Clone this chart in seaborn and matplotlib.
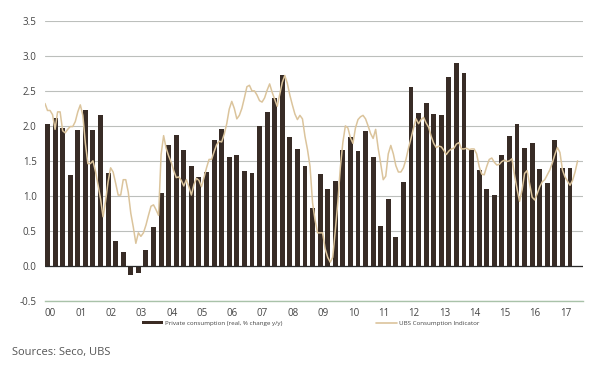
import numpy as np
import pandas as pd
import matplotlib
matplotlib.use('Agg')
import matplotlib.pyplot as plt
import seaborn as sns
from matplotlib.patches import Patch
from matplotlib.lines import Line2D

sns.set_style('white')
plt.rcParams['font.family'] = ['Open Sans', 'DejaVu Sans']

# Private consumption (real, % change y/y), quarterly 2000Q1 - 2017Q2
private_consumption = [
    2.03, 2.11, 1.97, 1.30,
    1.94, 2.23, 1.94, 2.15,
    1.33, 0.36, 0.19, -0.13,
    -0.11, 0.22, 0.55, 1.04,
    1.72, 1.87, 1.66, 1.43,
    1.27, 1.34, 1.80, 1.96,
    1.56, 1.58, 1.36, 1.32,
    2.00, 2.20, 2.40, 2.73,
    1.84, 1.67, 1.43, 0.82,
    1.31, 1.09, 1.21, 1.66,
    1.84, 1.64, 1.93, 1.55,
    0.57, 0.96, 0.41, 1.20,
    2.56, 2.18, 2.33, 2.17,
    2.15, 2.70, 2.90, 2.75,
    1.65, 1.37, 1.10, 1.01,
    1.59, 1.86, 2.03, 1.69,
    1.75, 1.38, 1.18, 1.80,
    1.40, 1.40,
]

# UBS Consumption Indicator, monthly Jan 2000 - Aug 2017
ubs_indicator = [
    2.32, 2.22, 2.22, 2.16, 1.95, 2.20, 2.20, 1.93, 1.90, 1.95, 1.99, 1.99,
    2.06, 2.20, 2.30, 2.15, 1.75, 1.46, 1.46, 1.50, 1.35, 1.16, 0.96, 0.70,
    0.92, 1.20, 1.40, 1.34, 1.18, 1.01, 1.01, 1.23, 1.23, 1.05, 0.75, 0.55,
    0.32, 0.47, 0.42, 0.47, 0.58, 0.72, 0.85, 0.87, 0.80, 0.72, 1.59, 1.86,
    1.68, 1.57, 1.48, 1.36, 1.26, 1.27, 1.22, 1.14, 1.23, 1.13, 1.01, 1.16,
    1.25, 1.22, 1.13, 1.26, 1.40, 1.52, 1.52, 1.63, 1.73, 1.78, 1.77, 1.88,
    2.03, 2.24, 2.35, 2.25, 2.10, 2.15, 2.25, 2.40, 2.56, 2.58, 2.50, 2.50,
    2.44, 2.36, 2.34, 2.40, 2.51, 2.60, 2.48, 2.38, 2.28, 2.45, 2.62, 2.72,
    2.61, 2.44, 2.30, 2.17, 2.09, 2.15, 2.10, 1.85, 1.66, 1.42, 0.90, 0.65,
    0.47, 0.47, 0.47, 0.24, 0.12, 0.05, 0.12, 0.50, 0.90, 1.40, 1.76, 2.00,
    1.97, 1.83, 1.75, 1.97, 2.09, 2.13, 2.15, 2.10, 2.00, 1.89, 1.82, 1.95,
    1.68, 1.46, 1.23, 1.28, 1.60, 1.72, 1.60, 1.43, 1.34, 1.34, 1.40, 1.52,
    1.68, 1.82, 1.97, 2.10, 2.03, 2.09, 2.12, 2.04, 1.98, 1.85, 1.75, 1.69,
    1.71, 1.70, 1.65, 1.59, 1.64, 1.67, 1.68, 1.74, 1.76, 1.67, 1.67, 1.68,
    1.66, 1.67, 1.67, 1.60, 1.42, 1.31, 1.30, 1.42, 1.52, 1.54, 1.48, 1.44,
    1.45, 1.49, 1.51, 1.49, 1.50, 1.53, 1.30, 1.10, 0.92, 1.08, 1.32, 1.36,
    1.17, 0.98, 0.94, 1.03, 1.13, 1.20, 1.23, 1.30, 1.37, 1.47, 1.59, 1.69,
    1.62, 1.37, 1.27, 1.21, 1.15, 1.22, 1.34, 1.50,
]

year_labels = ['%02d' % y for y in range(18)]

bar_color = '#3b2b23'
line_color = '#dbc49c'
grid_color = '#bcbfbc'
text_color = '#444444'

# quarter index for bars, months mapped onto the same quarter scale
bars = pd.DataFrame({'q': np.arange(len(private_consumption)),
                     'value': private_consumption})
line = pd.DataFrame({'q': (np.arange(len(ubs_indicator)) - 1) / 3,
                     'value': ubs_indicator})

fig = plt.figure(figsize=(6, 3.68), dpi=100)
ax = fig.add_axes([0.075, 0.183, 0.897, 0.760])

for v in np.arange(-0.5, 3.51, 0.5):
    ax.axhline(v, color=grid_color, lw=0.8, zorder=0)

sns.barplot(data=bars, x='q', y='value', native_scale=True, width=0.65,
            color=bar_color, edgecolor='none', errorbar=None, ax=ax, zorder=2)
ax.axhline(0, color='#2a2a2a', lw=0.9, zorder=3)
sns.lineplot(data=line, x='q', y='value', color=line_color, lw=1.1, ax=ax, zorder=4)

ax.set_xlim(-0.33, 70.74)
ax.set_ylim(-0.5, 3.5)
ax.set_yticks(np.arange(-0.5, 3.51, 0.5))
ax.set_yticklabels(['%.1f' % v for v in np.arange(-0.5, 3.51, 0.5)])
ax.set_xticks(np.arange(18) * 4 + 0.4)
ax.set_xticklabels(year_labels)
ax.tick_params(axis='both', length=0, labelsize=7, colors=text_color)
ax.tick_params(axis='x', pad=5)
ax.tick_params(axis='y', pad=6)
ax.set_xlabel('')
ax.set_ylabel('')
for s in ['top', 'right', 'left']:
    ax.spines[s].set_visible(False)
ax.spines['bottom'].set_color('#a9c2a9')
ax.spines['bottom'].set_linewidth(1.0)

handles = [Patch(facecolor=bar_color, edgecolor='none'),
           Line2D([0], [0], color=line_color, lw=1.2)]
fig.legend(handles, ['Private consumption (real, % change y/y)', 'UBS Consumption Indicator'],
           loc='center', bbox_to_anchor=(0.518, 0.122), ncol=2, frameon=False,
           fontsize=4.5, labelcolor=text_color, handlelength=3.4, handleheight=0.5,
           handletextpad=0.3, columnspacing=15)

fig.text(12 / 600, 1 - 352 / 368, 'Sources: Seco, UBS', fontsize=8, color='#555555', va='center')

fig.savefig('out.png', dpi=100)
